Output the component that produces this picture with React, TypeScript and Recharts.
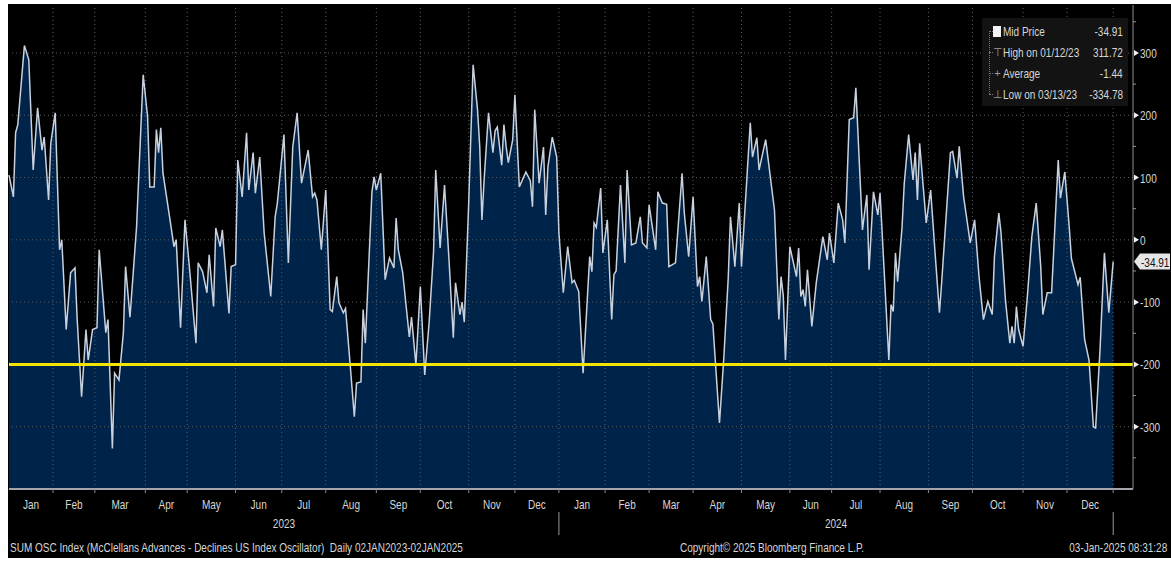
import { ComposedChart, Area, Line, XAxis, YAxis, ReferenceLine } from 'recharts'

// trading-day index (0 = 03-Jan-2023) and McClellan Summation oscillator reading
const tradingDay = [
  0, 2, 3, 4, 7, 9, 11, 13, 15, 16, 18, 19, 21, 23, 24, 26, 28, 30, 31, 33, 35, 36, 38, 40, 41, 44, 45, 47, 48, 50,
  52, 53, 55, 58, 61, 63, 64, 66, 67, 68, 69, 70, 73, 75, 76, 78, 80, 82, 85, 86, 88, 90, 91, 93, 94, 96, 97, 100, 101, 103,
  104, 106, 108, 109, 111, 112, 114, 116, 119, 121, 122, 125, 127, 129, 131, 133, 136, 138, 139, 140, 142, 144, 146, 147, 149, 150, 152, 153, 155, 157,
  158, 160, 161, 162, 165, 166, 167, 169, 171, 173, 175, 176, 177, 179, 182, 183, 185, 187, 189, 191, 193, 194, 196, 198, 200, 202, 203, 205, 206, 207,
  209, 211, 213, 214, 215, 216, 218, 220, 221, 222, 224, 225, 226, 227, 229, 230, 232, 235, 237, 238, 239, 241, 243, 244, 245, 247, 249, 250, 252, 254,
  256, 257, 259, 261, 264, 265, 266, 267, 269, 270, 272, 274, 275, 276, 278, 280, 281, 283, 285, 287, 288, 290, 291, 294, 295, 297, 299, 300, 303, 306,
  307, 309, 311, 313, 314, 315, 317, 319, 320, 323, 325, 327, 328, 330, 332, 333, 337, 338, 340, 341, 344, 348, 350, 351, 352, 353, 355, 358, 359, 360,
  361, 362, 363, 365, 367, 370, 372, 373, 375, 377, 379, 380, 382, 384, 385, 388, 390, 391, 393, 395, 396, 400, 401, 402, 403, 404, 406, 407, 409, 411,
  412, 413, 414, 417, 419, 421, 423, 424, 428, 429, 431, 432, 434, 437, 439, 441, 443, 445, 447, 448, 450, 451, 453, 455, 456, 457, 458, 459, 461, 463,
  465, 467, 469, 470, 472, 474, 477, 478, 480, 482, 483, 486, 487, 489, 491, 493, 494, 496, 498, 500, 502,
]
const oscValue = [
  104, 69, 172, 185, 312, 289, 112, 212, 144, 165, 64, 155, 204, -16, 0, -144, -53, -45, -128, -252, -144, -193, -144, -141, -16, -149, -128, -335, -214, -225,
  -149, -43, -124, 21, 265, 198, 85, 85, 177, 140, 180, 107, 37, -11, 0, -141, 32, -43, -166, -37, -51, -85, -24, -107, 19, -11, 16, -118, -43, -40,
  128, 69, 172, 80, 140, 75, 133, 11, -91, 37, 59, 169, -37, 149, 204, 91, 144, 69, 75, 64, -16, 80, -112, -115, -59, -101, -117, -110, -196, -284,
  -230, -228, -112, -166, 77, 101, 80, 107, -64, -29, -45, 35, -16, -53, -156, -124, -201, -75, -217, -133, -20, 112, -13, 88, -30, -157, -69, -120, -100, -132,
  60, 281, 209, 150, 32, 96, 204, 140, 175, 181, 120, 185, 150, 124, 161, 233, 85, 109, 95, 53, 209, 91, 149, 40, 117, 165, 133, 11, -85, -11,
  -69, -65, -83, -214, -27, -51, 27, 20, 83, -21, 32, -128, -56, -50, 88, -37, 112, -8, -5, 37, -5, -13, 56, -16, 77, 59, 57, -43, -37, 107,
  43, -27, 69, -75, -59, -99, -27, -128, -135, -294, -188, -60, 37, -43, 59, -43, 188, 133, 164, 112, 161, 48, -128, -59, -90, -193, -11, -59, -13, -91,
  -80, -107, -48, -139, -69, 5, -32, 11, -37, 59, 32, -5, 193, 196, 244, 16, 72, -48, 77, 40, 75, -193, -104, -115, -21, -67, 20, 90, 169, 96,
  140, 64, 155, 27, 80, -20, -117, -69, 140, 142, 99, 150, 69, -5, 32, -59, -128, -99, -120, -27, 43, 11, -96, -166, -139, -166, -107, -144, -171, -90,
  5, 59, -40, -120, -85, -85, 128, 67, 109, 21, -30, -72, -60, -160, -193, -300, -302, -177, -21, -117, -34.91,
]

const monthStart = [0, 20, 39, 62, 81, 103, 124, 144, 167, 187, 209, 230, 250, 271, 291, 311, 333, 355, 374, 396, 418, 438, 461, 481, 502]
const monthNames = ['Jan', 'Feb', 'Mar', 'Apr', 'May', 'Jun', 'Jul', 'Aug', 'Sep', 'Oct', 'Nov', 'Dec',
  'Jan', 'Feb', 'Mar', 'Apr', 'May', 'Jun', 'Jul', 'Aug', 'Sep', 'Oct', 'Nov', 'Dec']
const yearNames = ['2023', '2024']
const yearStart = [0, 250, 502]
const yMajor = [-300, -200, -100, 0, 100, 200, 300]
const yMinor = [-350, -250, -150, -50, 50, 150, 250, 350]
const lastValue = -34.91
const threshold = -200

const legendRows = [
  { label: 'Mid Price', value: '-34.91', icon: 'box' },
  { label: 'High on 01/12/23', value: '311.72', icon: '⊤' },
  { label: 'Average', value: '-1.44', icon: '+' },
  { label: 'Low on 03/13/23', value: '-334.78', icon: '⊥' },
]

// no narrow font installed, so squeeze Liberation Sans horizontally
const FONT = "'Liberation Sans', Arial, sans-serif"
const SQ = 0.77
const TEXT = '#d6d6d6'

const data = tradingDay.map((d, i) => ({ d, v: oscValue[i] }))

const monthMid = new Map<number, string>()
monthNames.forEach((m, i) => monthMid.set((monthStart[i] + monthStart[i + 1]) / 2, m))
const monthTicks = [...monthStart.slice(1), ...monthMid.keys()].sort((a, b) => a - b)

const yearMid = new Map<number, string>()
yearNames.forEach((y, i) => yearMid.set((yearStart[i] + yearStart[i + 1]) / 2, y))
const yearTicks = [...yearStart.slice(1), ...yearMid.keys()].sort((a, b) => a - b)

function Narrow({ x, y, anchor = 'start', fill = TEXT, size = 13, children }: any) {
  return (
    <text
      transform={`translate(${x} ${y}) scale(${SQ} 1)`}
      x={0}
      y={0}
      textAnchor={anchor}
      dominantBaseline="central"
      fill={fill}
      fontSize={size}
      fontFamily={FONT}
    >
      {children}
    </text>
  )
}

function MonthTick({ x, y, payload }: any) {
  const label = monthMid.get(payload.value)
  if (label) {
    return <Narrow x={x} y={y + 15} anchor="middle">{label}</Narrow>
  }
  return <line x1={x} x2={x} y1={y} y2={y + 4} stroke="#8c8c8c" />
}

function YearTick({ x, y, payload }: any) {
  const label = yearMid.get(payload.value)
  if (label) {
    return <Narrow x={x} y={y + 4} anchor="middle">{label}</Narrow>
  }
  return <line x1={x} x2={x} y1={y - 7} y2={y + 16} stroke="#9a9a9a" />
}

function ValueTick({ x, y, payload }: any) {
  const v = payload.value
  if (v === lastValue) {
    return (
      <g>
        <polygon
          points={`${x + 1},${y} ${x + 7},${y - 8} ${x + 37},${y - 8} ${x + 37},${y + 8} ${x + 7},${y + 8}`}
          fill="#e6e6e6"
        />
        <Narrow x={x + 8} y={y} fill="#111">{v.toFixed(2)}</Narrow>
      </g>
    )
  }
  if (v % 100 === 0) {
    return (
      <g>
        <polygon points={`${x + 1},${y - 3} ${x + 6},${y} ${x + 1},${y + 3}`} fill="#f0f0f0" />
        <Narrow x={x + 7} y={y}>{v}</Narrow>
      </g>
    )
  }
  return <line x1={x} x2={x + 3} y1={y} y2={y} stroke="#9a9a9a" />
}

const squeezeLeft = { display: 'inline-block', transform: `scaleX(${SQ})`, transformOrigin: 'left center', whiteSpace: 'pre' as const }
const squeezeRight = { ...squeezeLeft, transformOrigin: 'right center' }

function LegendBox() {
  return (
    <div
      style={{
        position: 'absolute', left: 974, top: 14, width: 146, height: 88,
        background: '#131313', fontFamily: FONT, fontSize: 13, color: TEXT,
      }}
    >
      <div style={{ position: 'absolute', left: 7, top: 13, width: 1, height: 63, borderLeft: '1px dotted #777' }} />
      {legendRows.map((r, i) => (
        <div key={r.label} style={{ position: 'absolute', left: 0, top: 3 + i * 21, width: 146, height: 21, lineHeight: '21px' }}>
          <div style={{ position: 'absolute', left: 7, top: 10, width: 4, borderTop: '1px dotted #777' }} />
          {r.icon === 'box' ? (
            <div style={{ position: 'absolute', left: 11, top: 5, width: 8, height: 11, background: '#f4f4f4' }} />
          ) : (
            <span style={{ position: 'absolute', left: 11, width: 9, textAlign: 'center', color: '#999', fontSize: 11 }}>{r.icon}</span>
          )}
          <span style={{ position: 'absolute', left: 21 }}><span style={squeezeLeft}>{r.label}</span></span>
          <span style={{ position: 'absolute', right: 5 }}><span style={squeezeRight}>{r.value}</span></span>
        </div>
      ))}
    </div>
  )
}

const footer = { position: 'absolute' as const, top: 535, fontFamily: FONT, fontSize: 13, color: TEXT, lineHeight: '18px' }

export default function App() {
  return (
    <div style={{ position: 'absolute', left: 8, top: 4, width: 1163, height: 554, background: '#000', overflow: 'hidden' }}>
      <ComposedChart width={1163} height={554} data={data} margin={{ top: 1, right: 0, bottom: 0, left: 1 }}>
        <XAxis
          dataKey="d"
          type="number"
          domain={[0, 511]}
          ticks={monthTicks}
          interval={0}
          height={30}
          tickSize={0}
          tickMargin={0}
          axisLine={{ stroke: '#a2a6ab', strokeWidth: 2 }}
          tickLine={false}
          tick={<MonthTick />}
        />
        <XAxis
          xAxisId="yr"
          dataKey="d"
          type="number"
          domain={[0, 511]}
          ticks={yearTicks}
          interval={0}
          height={39}
          tickSize={0}
          tickMargin={0}
          axisLine={false}
          tickLine={false}
          tick={<YearTick />}
        />
        <YAxis
          orientation="right"
          type="number"
          domain={[-400, 377]}
          ticks={[...yMajor, ...yMinor, lastValue]}
          interval={0}
          width={38}
          tickSize={0}
          tickMargin={0}
          axisLine={{ stroke: '#8c8c8c' }}
          tickLine={false}
          tick={<ValueTick />}
        />
        <Area
          dataKey="v"
          type="linear"
          baseValue={-400}
          fill="#00234a"
          fillOpacity={1}
          stroke="none"
          isAnimationActive={false}
        />
        {monthStart.slice(1).map((m) => (
          <ReferenceLine key={'m' + m} x={m} stroke="#56606e" strokeDasharray="1 3" />
        ))}
        {yMajor.map((t) => (
          <ReferenceLine key={'y' + t} y={t} stroke="#5c5c5c" strokeDasharray="1 3" />
        ))}
        <Line
          dataKey="v"
          type="linear"
          stroke="#c8d1dd"
          strokeWidth={1.5}
          dot={false}
          isAnimationActive={false}
        />
        <ReferenceLine y={threshold} stroke="#f3e500" strokeWidth={3} />
      </ComposedChart>
      <LegendBox />
      <div style={{ ...footer, left: 2 }}>
        <span style={squeezeLeft}>{'SUM OSC Index (McClellans Advances - Declines US Index Oscillator)  Daily 02JAN2023-02JAN2025'}</span>
      </div>
      <div style={{ ...footer, left: 672 }}>
        <span style={squeezeLeft}>Copyright© 2025 Bloomberg Finance L.P.</span>
      </div>
      <div style={{ ...footer, right: 4 }}>
        <span style={squeezeRight}>03-Jan-2025 08:31:28</span>
      </div>
    </div>
  )
}
